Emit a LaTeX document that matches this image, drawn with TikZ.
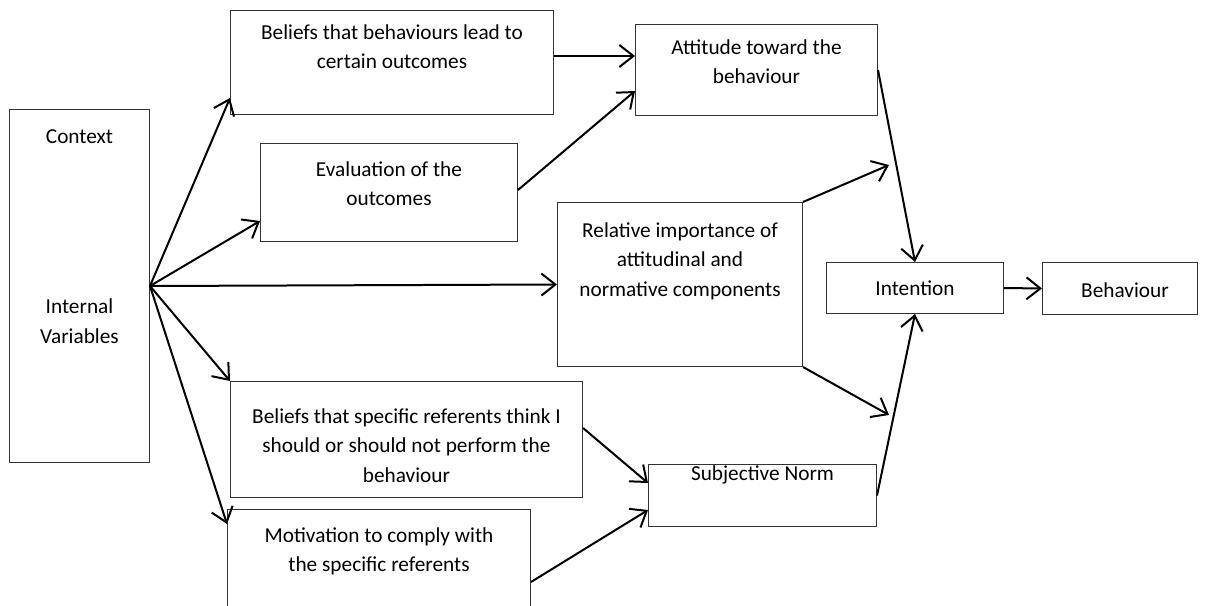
\documentclass[tikz,border=0pt]{standalone}
\usepackage{fontspec}
\setmainfont{Carlito}
\usetikzlibrary{arrows.meta}

\begin{document}
\begin{tikzpicture}[x=1pt, y=1pt,
    box/.style={draw=black!80, line width=1pt, anchor=north west, inner sep=0pt},
    txt/.style={align=center, inner sep=0pt, anchor=base, font=\fontsize{21.3}{29.5}\selectfont},
    link/.style={line width=2pt, >={Straight Barb[length=14pt, width=22pt]}}]
  \useasboundingbox (0,0) rectangle (1210,-605);
  \clip (0,0) rectangle (1210,-605);

  % boxes, text set from the top of each box
  \node[box, minimum width=140, minimum height=353,
        label={[txt, yshift=-234pt]north:{Context\\[141pt]Internal\\Variables}}] (ctx) at (9,-109) {};
  \node[box, minimum width=323, minimum height=104,
        label={[txt, yshift=-58.5pt]north:{Beliefs that behaviours lead to\\certain outcomes}}] (bel) at (230,-10) {};
  \node[box, minimum width=257, minimum height=98,
        label={[txt, yshift=-62.5pt]north:{Evaluation of the\\outcomes}}] (eva) at (260,-143) {};
  \node[box, minimum width=242, minimum height=91,
        label={[txt, yshift=-59.5pt]north:{Attitude toward the\\behaviour}}] (att) at (635,-24) {};
  \node[box, minimum width=245, minimum height=164,
        label={[txt, yshift=-94pt]north:{Relative importance of\\attitudinal and\\normative components}}] (rel) at (557,-202) {};
  \node[box, minimum width=177, minimum height=51,
        label={[txt, yshift=-33pt]north:{Intention}}] (int) at (826,-262) {};
  \node[box, minimum width=155, minimum height=52,
        label={[txt, yshift=-35pt, xshift=5pt]north:{Behaviour}}] (beh) at (1042,-262) {};
  \node[box, minimum width=352, minimum height=116,
        label={[txt, yshift=-101pt]north:{Beliefs that specific referents think I\\should or should not perform the\\behaviour}}] (ref) at (230,-381) {};
  \node[box, minimum width=303, minimum height=130,
        label={[txt, yshift=-62.5pt]north:{Motivation to comply with\\the specific referents}}] (mot) at (227,-509) {};
  \node[box, minimum width=228, minimum height=62,
        label={[txt, yshift=-16pt]north:{Subjective Norm}}] (sub) at (648,-464) {};

  \coordinate (belout) at ([yshift=-46pt]bel.north east);
  \coordinate (relup) at (889,-165);
  \coordinate (reldn) at (889,-415);

  % arrows
  \path[link, ->]
  (ctx.east) edge ([yshift=17pt]bel.south west)
             edge ([yshift=21pt]eva.south west)
             edge (rel.west)
             edge (ref.north west)
             edge ([yshift=-15pt]mot.north west)
  (belout) edge (belout -| att.west)
  ([yshift=-47pt]eva.north east) edge ([yshift=25pt]att.south west)
  (rel.north east) edge (relup)
  (rel.south east) edge (reldn)
  (att.east) edge (int.north)
  (sub.east) edge (int.south)
  ([yshift=-47pt]ref.north east) edge ([yshift=-19pt]sub.north west)
  ([yshift=-73pt]mot.north east) edge ([yshift=-46pt]sub.north west)
  (int.east) edge (beh.west)
  ;
\end{tikzpicture}
\end{document}
